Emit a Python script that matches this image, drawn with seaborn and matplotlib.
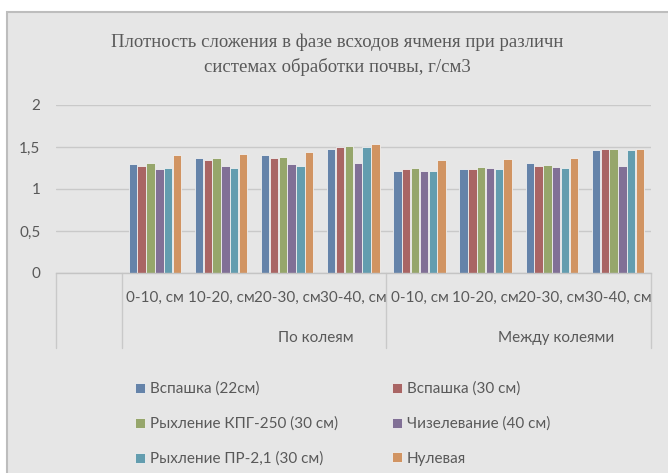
import numpy as np
import pandas as pd

import matplotlib.pyplot as plt
import matplotlib.transforms as mtransforms
from matplotlib.patches import Rectangle
import seaborn as sns

# data
depths = ["0-10, см", "10-20, см", "20-30, см", "30-40, см"]
zones = ["По колеям", "Между колеями"]
series = ["Вспашка (22см)", "Вспашка (30 см)", "Рыхление КПГ-250 (30 см)",
          "Чизелевание (40 см)", "Рыхление ПР-2,1 (30 см)", "Нулевая"]
colors = ["#5a82b4", "#b55a58", "#9ab061", "#806a9c", "#56a4bc", "#e3924f"]

# values per series, 8 columns: По колеям (4 depths) then Между колеями (4 depths)
vspashka_22 = [1.30, 1.37, 1.40, 1.48, 1.21, 1.24, 1.31, 1.47]
vspashka_30 = [1.27, 1.34, 1.37, 1.50, 1.24, 1.24, 1.27, 1.48]
kpg_250 = [1.31, 1.37, 1.38, 1.51, 1.25, 1.26, 1.28, 1.48]
chizel = [1.24, 1.27, 1.30, 1.31, 1.22, 1.25, 1.26, 1.27]
pr_21 = [1.25, 1.25, 1.27, 1.50, 1.22, 1.24, 1.25, 1.47]
nulevaya = [1.40, 1.42, 1.44, 1.54, 1.35, 1.36, 1.37, 1.48]
values = [vspashka_22, vspashka_30, kpg_250, chizel, pr_21, nulevaya]

title = "Плотность сложения в фазе всходов ячменя при различн\nсистемах обработки почвы, г/см3"

# build long table; first slot of the axis is empty like in the original
keys = [f"{z}|{d}" for z in zones for d in depths]
rows = []
for name, vals in zip(series, values):
    for k, v in zip(keys, vals):
        rows.append({"cat": k, "series": name, "value": v})
df = pd.DataFrame(rows)
order = [" "] + keys

sns.set_theme(style="white")
plt.rcParams["font.family"] = ["Lato", "DejaVu Sans"]
text_col = "#595959"

fig = plt.figure(figsize=(6.68, 4.73), dpi=100)
fig.patch.set_facecolor("white")
fig.patches.append(Rectangle((7 / 668, -0.05), 1.0, 1 - 12 / 473 + 0.05,
                             transform=fig.transFigure, facecolor="#e6e6e6",
                             edgecolor="#bdbdbd", linewidth=1.5, zorder=-5))

ax = fig.add_axes([55.7 / 668, 200 / 473, 595.3 / 668, 168 / 473])
ax.set_facecolor("none")

sns.barplot(data=df, x="cat", y="value", hue="series", order=order,
            hue_order=series, palette=colors, width=0.8, gap=0.05,
            edgecolor="#f0f0f0", linewidth=0.6, ax=ax)

ax.set_ylim(0, 2)
ax.set_xlim(-0.5, len(order) - 0.5)
ax.set_yticks([0, 0.5, 1, 1.5, 2])
ax.set_yticklabels(["0", "0,5", "1", "1,5", "2"])
ax.yaxis.grid(True, color="#c9c9c9", linewidth=1.0)
ax.set_axisbelow(True)
for s in ["top", "right", "left"]:
    ax.spines[s].set_visible(False)
ax.spines["bottom"].set_color("#c4c4c4")
ax.spines["bottom"].set_linewidth(1.0)
ax.set_xlabel("")
ax.set_ylabel("")

ax.set_xticks(range(len(order)))
ax.set_xticklabels([""] + depths * 2)
ax.tick_params(axis="x", length=0, pad=13, labelsize=11, labelcolor=text_col)
ax.tick_params(axis="y", length=0, pad=11, labelsize=11, labelcolor=text_col)

# multi-level axis separators
trans = mtransforms.blended_transform_factory(ax.transData, ax.transAxes)
for xb in [-0.5, 0.5, 4.5, 8.5]:
    ax.plot([xb, xb], [0, -0.446], transform=trans, color="#c9c9c9",
            linewidth=1.0, clip_on=False)

# group labels
ax.text(0.4375, -0.385, zones[0], transform=ax.transAxes, ha="center",
        va="center", fontsize=11, color=text_col)
ax.text(0.841, -0.385, zones[1], transform=ax.transAxes, ha="center",
        va="center", fontsize=11, color=text_col)

fig.text(337 / 668, 1 - 54.5 / 473, title, ha="center", va="center",
         fontsize=13.5, color=text_col, family="Liberation Serif",
         linespacing=1.5)

handles, labels = ax.get_legend_handles_labels()
ax.get_legend().remove()
idx = [0, 2, 4, 1, 3, 5]
fig.legend([handles[i] for i in idx], [labels[i] for i in idx], ncol=2,
           loc="upper left", bbox_to_anchor=(121 / 668, 1 - 368 / 473),
           frameon=False, fontsize=11, labelcolor=text_col,
           handlelength=0.65, handleheight=0.65, handletextpad=0.35,
           columnspacing=3.5, labelspacing=1.35)

plt.savefig("out.png", dpi=100)
